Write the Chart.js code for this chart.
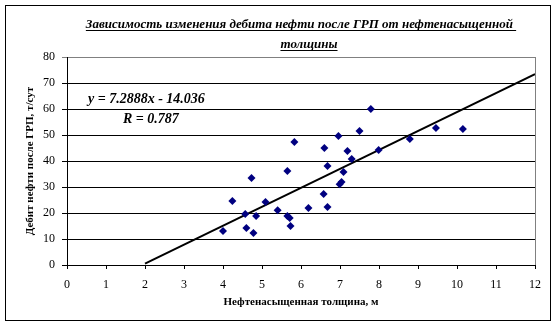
<!DOCTYPE html>
<html>
<head>
<meta charset="utf-8">
<script src="https://cdn.jsdelivr.net/npm/chart.js@4/dist/chart.umd.min.js"></script>
<style>
  html, body { margin: 0; padding: 0; background: #fff; }
</style>
</head>
<body>
<canvas id="scatterChart" width="557" height="326"></canvas>
<script>
// Нефтенасыщенная толщина, м
const thickness = [4.0, 4.24, 4.6, 4.57, 4.73, 4.78, 4.85, 5.09, 5.4, 5.65, 5.65, 5.71, 5.73, 5.83, 6.19, 6.58,
    6.6, 6.68, 6.68, 6.96, 6.99, 7.04, 7.09, 7.19, 7.3, 7.5, 7.79, 7.99, 8.79, 9.46, 10.15];
// Дебит нефти после ГРП, т/сут
const flowRate = [13.1, 24.6, 14.2, 19.6, 33.5, 12.3, 18.8, 24.2, 21.1, 36.2, 18.8, 18.1, 15.0, 47.3, 21.9, 27.3,
    45.0, 38.1, 22.3, 49.6, 31.1, 31.9, 35.8, 43.8, 40.8, 51.5, 60.0, 44.2, 48.5, 52.7, 52.3];
// linear trend line end points
const trendX = [2, 12];
const trendY = [0.54, 73.43];

const xTicks = [0, 1, 2, 3, 4, 5, 6, 7, 8, 9, 10, 11, 12];
const yTicks = [0, 10, 20, 30, 40, 50, 60, 70, 80];

const titleLines = ['Зависимость изменения дебита нефти после ГРП от нефтенасыщенной ', 'толщины'];
const equationLines = ['y = 7.2888x - 14.036', 'R = 0.787'];
const xTitle = 'Нефтенасыщенная толщина, м';
const yTitle = 'Дебит нефти после ГРП, т/сут';

const serif = '"Liberation Serif", "Times New Roman", serif';

const framePlugin = {
    id: 'frame',
    beforeDraw(chart) {
        const ctx = chart.ctx;
        ctx.save();
        ctx.fillStyle = '#fff';
        ctx.fillRect(0, 0, chart.width, chart.height);
        ctx.strokeStyle = '#000';
        ctx.lineWidth = 1;
        ctx.strokeRect(5.5, 5.5, 545, 315);
        ctx.restore();
    },
    afterDraw(chart) {
        const ctx = chart.ctx;
        const area = chart.chartArea;
        ctx.save();
        // right border of plot area
        ctx.strokeStyle = '#808080';
        ctx.beginPath();
        ctx.moveTo(area.right + 0.5, area.top);
        ctx.lineTo(area.right + 0.5, area.bottom);
        ctx.stroke();

        // title, underlined
        ctx.fillStyle = '#000';
        ctx.strokeStyle = '#000';
        ctx.font = 'bold italic 13px ' + serif;
        ctx.textAlign = 'left';
        ctx.textBaseline = 'alphabetic';
        const centers = [301, 309];
        const baselines = [28, 48];
        titleLines.forEach((line, i) => {
            const w = ctx.measureText(line).width;
            const x0 = centers[i] - w / 2;
            ctx.fillText(line, x0, baselines[i]);
            ctx.beginPath();
            ctx.moveTo(x0, baselines[i] + 2.5);
            ctx.lineTo(x0 + w, baselines[i] + 2.5);
            ctx.stroke();
        });

        // trend equation
        ctx.font = 'bold italic 14px ' + serif;
        ctx.fillText(equationLines[0], area.left + 21, area.top + 46);
        ctx.fillText(equationLines[1], area.left + 56, area.top + 66);
        ctx.restore();
    }
};

new Chart(document.getElementById('scatterChart').getContext('2d'), {
    type: 'scatter',
    data: {
        datasets: [{
            label: 'Дебит',
            data: thickness.map((x, i) => ({ x: x, y: flowRate[i] })),
            pointStyle: 'rectRot',
            pointRadius: 4,
            pointBackgroundColor: '#000080',
            pointBorderColor: '#000080',
            pointBorderWidth: 0
        }, {
            type: 'line',
            label: 'Линейный',
            data: trendX.map((x, i) => ({ x: x, y: trendY[i] })),
            borderColor: '#000',
            borderWidth: 2,
            pointRadius: 0,
            fill: false
        }]
    },
    options: {
        responsive: false,
        animation: false,
        devicePixelRatio: 1,
        layout: { padding: { top: 57, right: 22, left: 0, bottom: 0 } },
        plugins: {
            legend: { display: false },
            title: { display: false },
            tooltip: { enabled: false }
        },
        scales: {
            x: {
                type: 'linear',
                min: xTicks[0],
                max: xTicks[xTicks.length - 1],
                afterFit: scale => { scale.height = 61; },
                afterBuildTicks: scale => { scale.ticks = xTicks.map(v => ({ value: v })); },
                ticks: { color: '#000', padding: 9, font: { family: serif, size: 12 } },
                grid: { drawOnChartArea: false, drawTicks: true, tickLength: 4, color: '#000' },
                border: { color: '#000' },
                title: {
                    display: true,
                    text: xTitle,
                    color: '#000',
                    font: { family: serif, size: 11, weight: 'bold' },
                    padding: { top: 0, bottom: 17 }
                }
            },
            y: {
                min: yTicks[0],
                max: yTicks[yTicks.length - 1],
                afterFit: scale => { scale.width = 67; },
                afterBuildTicks: scale => { scale.ticks = yTicks.map(v => ({ value: v })); },
                ticks: { color: '#000', padding: 7, font: { family: serif, size: 12 } },
                grid: {
                    tickLength: 5,
                    color: ctx => (ctx.tick && ctx.tick.value === 80 ? '#808080' : '#000')
                },
                border: { color: '#000' },
                title: {
                    display: true,
                    text: yTitle,
                    color: '#000',
                    font: { family: serif, size: 11, weight: 'bold' },
                    padding: { top: 24, bottom: 0 }
                }
            }
        }
    },
    plugins: [framePlugin]
});
</script>
</body>
</html>
